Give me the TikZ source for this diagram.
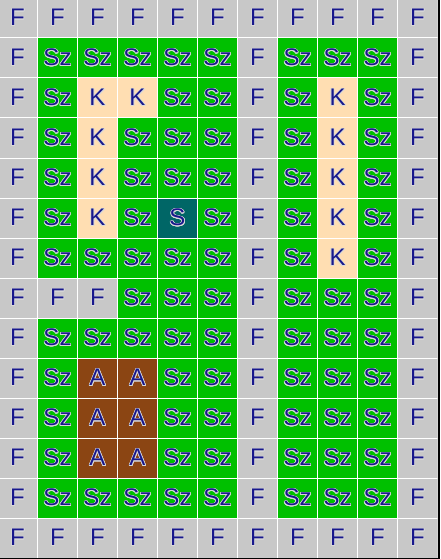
\documentclass[tikz,border=0pt]{standalone}
\usepackage{fontspec}
\setmainfont{Liberation Sans}
\usepackage{contour}
\contourlength{0.7pt}
\usetikzlibrary{calc, positioning}

\definecolor{fieldgray}{RGB}{200,200,200}
\definecolor{grassgreen}{RGB}{0,192,0}
\definecolor{sandpeach}{RGB}{255,222,178}
\definecolor{stoneteal}{RGB}{0,102,102}
\definecolor{earthbrown}{RGB}{139,69,19}
\definecolor{letternavy}{RGB}{24,24,140}

\begin{document}
\begin{tikzpicture}[
        x=1pt, y=1pt,
        cell/.style={rectangle, draw=white, line width=1pt, minimum size=40pt, inner sep=0pt,
                     font=\fontsize{24}{24}\selectfont, text=letternavy},
        cellF/.style={fill=fieldgray},
        cellSz/.style={fill=grassgreen},
        cellK/.style={fill=sandpeach},
        cellS/.style={fill=stoneteal},
        cellA/.style={fill=earthbrown}
    ]
    % Rahmen
    \useasboundingbox (0,0) rectangle (440,-559);
    \fill[black] (0,0) rectangle (440,-559);
    \clip (0,0) rectangle (437.5,-557.5);

    % Raster
    \foreach \row [count=\j from 0] in {
        {F,F,F,F,F,F,F,F,F,F,F},
        {F,Sz,Sz,Sz,Sz,Sz,F,Sz,Sz,Sz,F},
        {F,Sz,K,K,Sz,Sz,F,Sz,K,Sz,F},
        {F,Sz,K,Sz,Sz,Sz,F,Sz,K,Sz,F},
        {F,Sz,K,Sz,Sz,Sz,F,Sz,K,Sz,F},
        {F,Sz,K,Sz,S,Sz,F,Sz,K,Sz,F},
        {F,Sz,Sz,Sz,Sz,Sz,F,Sz,K,Sz,F},
        {F,F,F,Sz,Sz,Sz,F,Sz,Sz,Sz,F},
        {F,Sz,Sz,Sz,Sz,Sz,F,Sz,Sz,Sz,F},
        {F,Sz,A,A,Sz,Sz,F,Sz,Sz,Sz,F},
        {F,Sz,A,A,Sz,Sz,F,Sz,Sz,Sz,F},
        {F,Sz,A,A,Sz,Sz,F,Sz,Sz,Sz,F},
        {F,Sz,Sz,Sz,Sz,Sz,F,Sz,Sz,Sz,F},
        {F,F,F,F,F,F,F,F,F,F,F}}
    {
        \foreach \t [count=\i from 0] in \row {
            \node[cell, cell\t] (c-\i-\j) at ({40*\i+17.5}, {-40*\j-18}) {\contour{white!70!gray}{\t}};
        }
    }
\end{tikzpicture}
\end{document}
